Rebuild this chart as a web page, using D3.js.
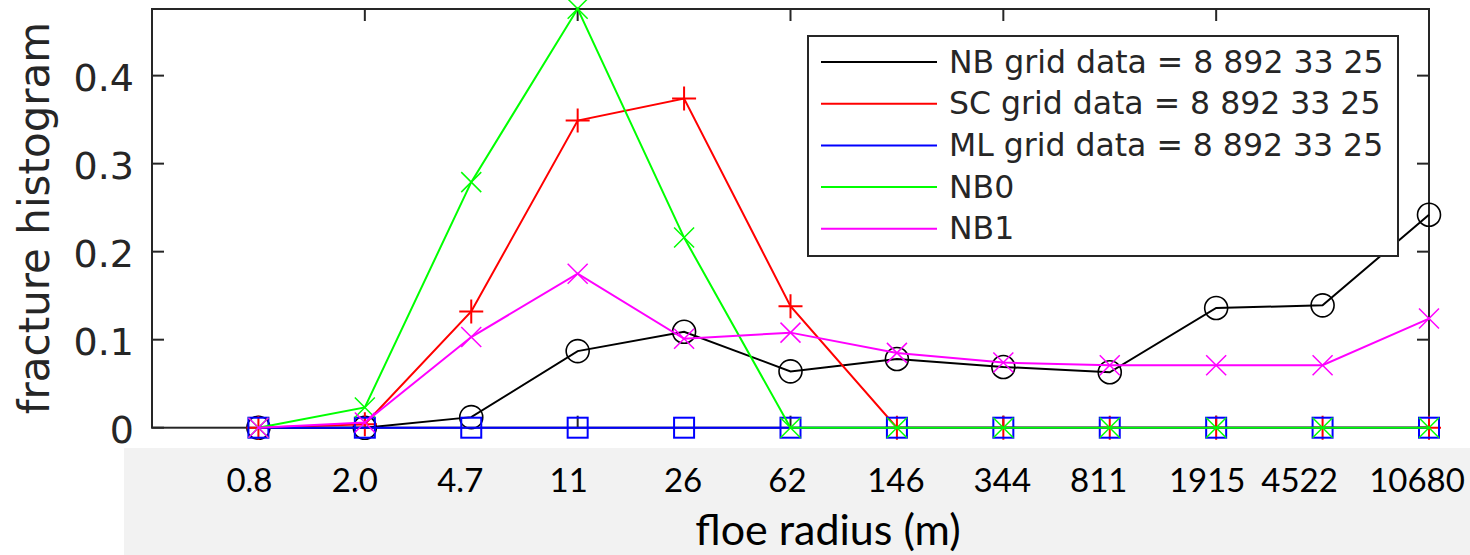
<!DOCTYPE html>
<html>
<head>
<meta charset="utf-8">
<script src="https://cdn.jsdelivr.net/npm/d3@7"></script>
<style>
  body { margin: 0; background: #fff; }
  svg { display: block; }
</style>
</head>
<body>
<script>
// floe radius bins (tick labels under the axis)
var radiusLabels = ["0.8", "2.0", "4.7", "11", "26", "62", "146", "344", "811", "1915", "4522", "10680"];

// fracture histogram per series
var nbGrid  = [0, 0, 0.012, 0.087, 0.109, 0.064, 0.078, 0.069, 0.063, 0.136, 0.139, 0.242];
var scGrid  = [0, 0.004, 0.132, 0.349, 0.374, 0.138, 0, 0, 0, 0, 0, 0];
var mlGrid  = [0, 0, 0, 0, 0, 0, 0, 0, 0, 0, 0, 0];
var nb0     = [0, 0.023, 0.279, 0.476, 0.216, 0, 0, 0, 0, 0, 0, 0];
var nb1     = [0, 0.006, 0.103, 0.175, 0.101, 0.108, 0.085, 0.074, 0.071, 0.071, 0.071, 0.124];

var seriesNames = ["NB grid data = 8 892 33 25", "SC grid data = 8 892 33 25",
                   "ML grid data = 8 892 33 25", "NB0", "NB1"];

var yTicks = [0, 0.1, 0.2, 0.3, 0.4];
var xTicks = [2, 4, 6, 8, 10, 12];

var series = [
    {name: seriesNames[0], values: nbGrid, color: "#000000", marker: "circle"},
    {name: seriesNames[1], values: scGrid, color: "#ff0000", marker: "plus"},
    {name: seriesNames[2], values: mlGrid, color: "#0000ff", marker: "square"},
    {name: seriesNames[3], values: nb0,    color: "#00ff00", marker: "cross"},
    {name: seriesNames[4], values: nb1,    color: "#ff00ff", marker: "cross"}
];

var width = 1470;
var height = 555;
var axisColor = "#262626";

var svg = d3.select("body")
    .append("svg")
    .attr("width", width)
    .attr("height", height);

// x is the bin index 1..12, axis runs 0..12
var x = d3.scaleLinear().domain([0, 12]).range([152, 1429]);
var y = d3.scaleLinear().domain([0, 0.4757]).range([427.7, 9]);

// series lines
var line = d3.line()
    .x(function(d, i) { return x(i + 1); })
    .y(function(d) { return y(d); });

// draw marker shapes
function drawMarker(g, type, color) {
    if (type == "circle") {
        g.append("circle").attr("r", 11.5)
            .attr("fill", "none").attr("stroke", color).attr("stroke-width", 1.6);
    } else if (type == "square") {
        g.append("rect").attr("x", -10).attr("y", -10).attr("width", 20).attr("height", 20)
            .attr("fill", "none").attr("stroke", color).attr("stroke-width", 2);
    } else if (type == "plus") {
        g.append("path").attr("d", "M-12,0H12M0,-12V12")
            .attr("stroke", color).attr("stroke-width", 2);
    } else {
        g.append("path").attr("d", "M-10,-10L10,10M-10,10L10,-10")
            .attr("stroke", color).attr("stroke-width", 1.5);
    }
}

// axis box
svg.append("rect")
    .attr("x", x(0)).attr("y", y.range()[1])
    .attr("width", x(12) - x(0)).attr("height", y(0) - y.range()[1])
    .attr("fill", "none")
    .attr("stroke", axisColor)
    .attr("stroke-width", 2);

// inward ticks on all four sides
yTicks.forEach(function(t) {
    svg.append("line").attr("x1", x(0)).attr("x2", x(0) + 12)
        .attr("y1", y(t)).attr("y2", y(t)).attr("stroke", axisColor).attr("stroke-width", 2);
    svg.append("line").attr("x1", x(12)).attr("x2", x(12) - 12)
        .attr("y1", y(t)).attr("y2", y(t)).attr("stroke", axisColor).attr("stroke-width", 2);
});
xTicks.forEach(function(t) {
    svg.append("line").attr("x1", x(t)).attr("x2", x(t))
        .attr("y1", y.range()[1]).attr("y2", y.range()[1] + 12).attr("stroke", axisColor).attr("stroke-width", 2);
    svg.append("line").attr("x1", x(t)).attr("x2", x(t))
        .attr("y1", y(0)).attr("y2", y(0) - 12).attr("stroke", axisColor).attr("stroke-width", 2);
});

// y tick labels
svg.selectAll(".ylab")
    .data(yTicks)
    .enter()
    .append("text")
    .attr("class", "ylab")
    .attr("x", 134)
    .attr("y", function(d) { return y(d) + 15; })
    .attr("text-anchor", "end")
    .attr("font-family", "DejaVu Sans")
    .attr("font-size", 38)
    .attr("fill", axisColor)
    .text(function(d) { return d == 0 ? "0" : d3.format(".1f")(d); });

// y axis title
svg.append("text")
    .attr("transform", "translate(49,218) rotate(-90)")
    .attr("text-anchor", "middle")
    .attr("font-family", "DejaVu Sans")
    .attr("font-size", 42)
    .attr("fill", axisColor)
    .text("fracture histogram");

// lines + markers, in plot order
series.forEach(function(s) {
    svg.append("path")
        .datum(s.values)
        .attr("d", line)
        .attr("fill", "none")
        .attr("stroke", s.color)
        .attr("stroke-width", 2);

    svg.selectAll(null)
        .data(s.values)
        .enter()
        .append("g")
        .attr("transform", function(d, i) { return "translate(" + x(i + 1) + "," + y(d) + ")"; })
        .each(function() { drawMarker(d3.select(this), s.marker, s.color); });
});

// legend
var legend = svg.append("g");
legend.append("rect")
    .attr("x", 808).attr("y", 36).attr("width", 590).attr("height", 220)
    .attr("fill", "#fff")
    .attr("stroke", axisColor)
    .attr("stroke-width", 2);

series.forEach(function(s, i) {
    var ly = 62 + i * 41.7;
    legend.append("line")
        .attr("x1", 821).attr("x2", 937)
        .attr("y1", ly).attr("y2", ly)
        .attr("stroke", s.color).attr("stroke-width", 2);
    legend.append("text")
        .attr("x", 949).attr("y", ly + 10.5)
        .attr("font-family", "DejaVu Sans")
        .attr("font-size", 31.5)
        .attr("fill", axisColor)
        .text(s.name);
});

// pasted label strip under the axis
svg.append("rect")
    .attr("x", 124).attr("y", 448)
    .attr("width", width - 124).attr("height", height - 448)
    .attr("fill", "#f2f2f2");

// label nudges to follow the hand placed labels
var labelNudge = [-9, -10, -11, -9, -1, -3, -1, -1, -11, -9, -23, -12];

svg.selectAll(".xlab")
    .data(radiusLabels)
    .enter()
    .append("text")
    .attr("class", "xlab")
    .attr("x", function(d, i) { return x(i + 1) + labelNudge[i]; })
    .attr("y", 492)
    .attr("text-anchor", "middle")
    .attr("font-family", "Lato")
    .attr("font-size", 33)
    .attr("fill", "#000")
    .text(function(d) { return d; });

svg.append("text")
    .attr("x", 828)
    .attr("y", 545)
    .attr("text-anchor", "middle")
    .attr("font-family", "Lato")
    .attr("font-size", 43)
    .attr("fill", "#000")
    .text("floe radius (m)");
</script>
</body>
</html>
